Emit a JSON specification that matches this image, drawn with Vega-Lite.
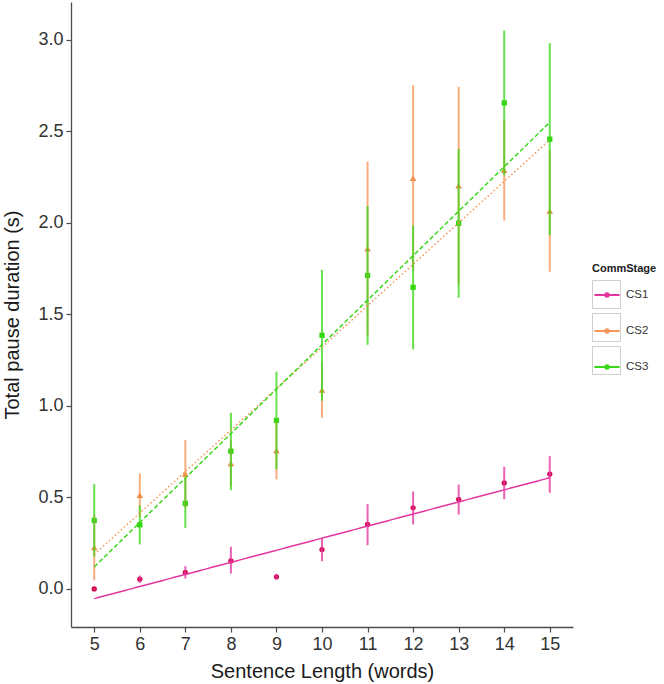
{
  "$schema": "https://vega.github.io/schema/vega-lite/v6.json",
  "width": 502,
  "height": 625,
  "autosize": {"type": "none"},
  "padding": {"left": 71, "top": 2, "right": 91, "bottom": 57},
  "background": "white",
  "config": {
    "view": {"stroke": null},
    "font": "Liberation Sans",
    "axis": {
      "grid": false,
      "domainColor": "#4d4d4d",
      "domainWidth": 1.3,
      "tickColor": "#4d4d4d",
      "tickWidth": 1.2,
      "tickSize": 5,
      "labelFont": "Liberation Sans",
      "labelFontSize": 18,
      "labelColor": "#333333",
      "labelPadding": 3,
      "titleFont": "Liberation Sans",
      "titleFontSize": 20,
      "titleFontWeight": "normal",
      "titleColor": "#1a1a1a"
    },
    "legend": {
      "titleFont": "Liberation Sans",
      "labelFont": "Liberation Sans"
    }
  },
  "datasets": {
    "means": [
      {"stage": "CS1", "len": 5, "mean": 0.0, "lo": -0.004, "hi": 0.004},
      {"stage": "CS1", "len": 6, "mean": 0.053, "lo": 0.033, "hi": 0.073},
      {"stage": "CS1", "len": 7, "mean": 0.09, "lo": 0.057, "hi": 0.124},
      {"stage": "CS1", "len": 8, "mean": 0.153, "lo": 0.084, "hi": 0.23},
      {"stage": "CS1", "len": 9, "mean": 0.066, "lo": 0.05, "hi": 0.082},
      {"stage": "CS1", "len": 10, "mean": 0.215, "lo": 0.151, "hi": 0.275},
      {"stage": "CS1", "len": 11, "mean": 0.352, "lo": 0.239, "hi": 0.463},
      {"stage": "CS1", "len": 12, "mean": 0.443, "lo": 0.352, "hi": 0.532},
      {"stage": "CS1", "len": 13, "mean": 0.489, "lo": 0.406, "hi": 0.57},
      {"stage": "CS1", "len": 14, "mean": 0.579, "lo": 0.49, "hi": 0.667},
      {"stage": "CS1", "len": 15, "mean": 0.627, "lo": 0.525, "hi": 0.725},
      {"stage": "CS2", "len": 5, "mean": 0.226, "lo": 0.047, "hi": 0.405},
      {"stage": "CS2", "len": 6, "mean": 0.512, "lo": 0.393, "hi": 0.631},
      {"stage": "CS2", "len": 7, "mean": 0.628, "lo": 0.443, "hi": 0.813},
      {"stage": "CS2", "len": 8, "mean": 0.685, "lo": 0.56, "hi": 0.81},
      {"stage": "CS2", "len": 9, "mean": 0.756, "lo": 0.598, "hi": 0.914},
      {"stage": "CS2", "len": 10, "mean": 1.086, "lo": 0.934, "hi": 1.238},
      {"stage": "CS2", "len": 11, "mean": 1.858, "lo": 1.383, "hi": 2.333},
      {"stage": "CS2", "len": 12, "mean": 2.243, "lo": 1.735, "hi": 2.751},
      {"stage": "CS2", "len": 13, "mean": 2.202, "lo": 1.662, "hi": 2.742},
      {"stage": "CS2", "len": 14, "mean": 2.286, "lo": 2.011, "hi": 2.561},
      {"stage": "CS2", "len": 15, "mean": 2.064, "lo": 1.732, "hi": 2.396},
      {"stage": "CS3", "len": 5, "mean": 0.374, "lo": 0.176, "hi": 0.572},
      {"stage": "CS3", "len": 6, "mean": 0.35, "lo": 0.243, "hi": 0.457},
      {"stage": "CS3", "len": 7, "mean": 0.467, "lo": 0.333, "hi": 0.601},
      {"stage": "CS3", "len": 8, "mean": 0.752, "lo": 0.539, "hi": 0.962},
      {"stage": "CS3", "len": 9, "mean": 0.92, "lo": 0.654, "hi": 1.186},
      {"stage": "CS3", "len": 10, "mean": 1.385, "lo": 1.028, "hi": 1.742},
      {"stage": "CS3", "len": 11, "mean": 1.712, "lo": 1.333, "hi": 2.091},
      {"stage": "CS3", "len": 12, "mean": 1.647, "lo": 1.308, "hi": 1.986},
      {"stage": "CS3", "len": 13, "mean": 1.997, "lo": 1.59, "hi": 2.403},
      {"stage": "CS3", "len": 14, "mean": 2.654, "lo": 2.259, "hi": 3.049},
      {"stage": "CS3", "len": 15, "mean": 2.456, "lo": 1.932, "hi": 2.98}
    ],
    "fits": [
      {"stage": "CS1", "len": 5, "fit": -0.053},
      {"stage": "CS1", "len": 15, "fit": 0.607},
      {"stage": "CS2", "len": 5, "fit": 0.188},
      {"stage": "CS2", "len": 15, "fit": 2.452},
      {"stage": "CS3", "len": 5, "fit": 0.12},
      {"stage": "CS3", "len": 15, "fit": 2.548}
    ]
  },
  "encoding": {
    "x": {
      "field": "len", "type": "quantitative",
      "scale": {"domain": [4.49, 15.51], "nice": false, "zero": false},
      "axis": {"title": "Sentence Length (words)", "values": [5,6,7,8,9,10,11,12,13,14,15], "format": "d", "titlePadding": 8}
    }
  },
  "layer": [
    {
      "data": {"name": "means"},
      "mark": {"type": "point", "shape": "square", "filled": false, "color": "#cfcfcf", "opacity": 0, "strokeWidth": 1},
      "encoding": {
        "y": {
          "field": "mean", "type": "quantitative",
          "scale": {"domain": [-0.208, 3.205], "nice": false, "zero": false},
          "axis": {"title": "Total pause duration (s)", "values": [0, 0.5, 1, 1.5, 2, 2.5, 3], "format": ".1f", "titlePadding": 15}
        },
        "size": {
          "field": "stage", "type": "nominal",
          "scale": {"range": [784, 784]},
          "legend": {
            "title": "CommStage",
            "orient": "none",
            "legendX": 521,
            "legendY": 261,
            "padding": 0,
            "titleFontSize": 11,
            "titleFontWeight": "bold",
            "titleColor": "transparent",
            "titlePadding": 6,
            "symbolType": "square",
            "symbolOpacity": 1,
            "symbolStrokeColor": "#cfcfcf",
            "symbolFillColor": "transparent",
            "symbolStrokeWidth": 1,
            "rowPadding": 0,
            "labelFontSize": 11.5,
            "labelColor": "transparent",
            "labelExpr": "''",
            "labelOffset": 4
          }
        }
      }
    },
    {
      "data": {"name": "means"},
      "mark": {"type": "point", "filled": true, "opacity": 1, "strokeWidth": 0},
      "encoding": {
        "y": {"field": "mean", "type": "quantitative"},
        "fill": {
          "field": "stage", "type": "nominal",
          "scale": {"range": ["#d30b4e", "#e8873a", "#2fd60f"]},
          "legend": null
        },
        "shape": {
          "field": "stage", "type": "nominal",
          "scale": {"range": ["circle", "triangle-up", "square"]},
          "legend": null
        },
        "size": {"condition": {"test": "datum.stage === 'CS2'", "value": 42}, "value": 28}
      }
    },
    {
      "data": {"name": "means"},
      "mark": {"type": "rule", "strokeWidth": 2, "opacity": 0.78},
      "encoding": {
        "y": {"field": "lo", "type": "quantitative"},
        "y2": {"field": "hi"},
        "color": {
          "field": "stage", "type": "nominal",
          "scale": {"domain": ["CS1", "CS2", "CS3"], "range": ["#e5359e", "#f7955a", "#3bd81a"]},
          "legend": {
            "title": "CommStage",
            "orient": "none",
            "legendX": 521,
            "legendY": 261,
            "padding": 0,
            "titleFontSize": 11,
            "titleFontWeight": "bold",
            "titleColor": "#1a1a1a",
            "titlePadding": 6,
            "symbolType": "M-0.9,0H0.9M-0.12,0A0.12,0.12 0 1,1 0.12,0A0.12,0.12 0 1,1 -0.12,0M-1,-1M1,1",
            "symbolSize": 784,
            "symbolStrokeWidth": 2,
            "symbolOpacity": 1,
            "rowPadding": 0,
            "labelFontSize": 11.5,
            "labelColor": "#333333",
            "labelOffset": 4
          }
        }
      }
    },
    {
      "data": {"name": "fits"},
      "mark": {"type": "line", "strokeWidth": 1.5},
      "encoding": {
        "y": {"field": "fit", "type": "quantitative"},
        "color": {"field": "stage", "type": "nominal"},
        "strokeDash": {
          "field": "stage", "type": "nominal",
          "scale": {"range": [[1, 0], [1.5, 2.5], [4.5, 2.5]]},
          "legend": null
        }
      }
    }
  ]
}
